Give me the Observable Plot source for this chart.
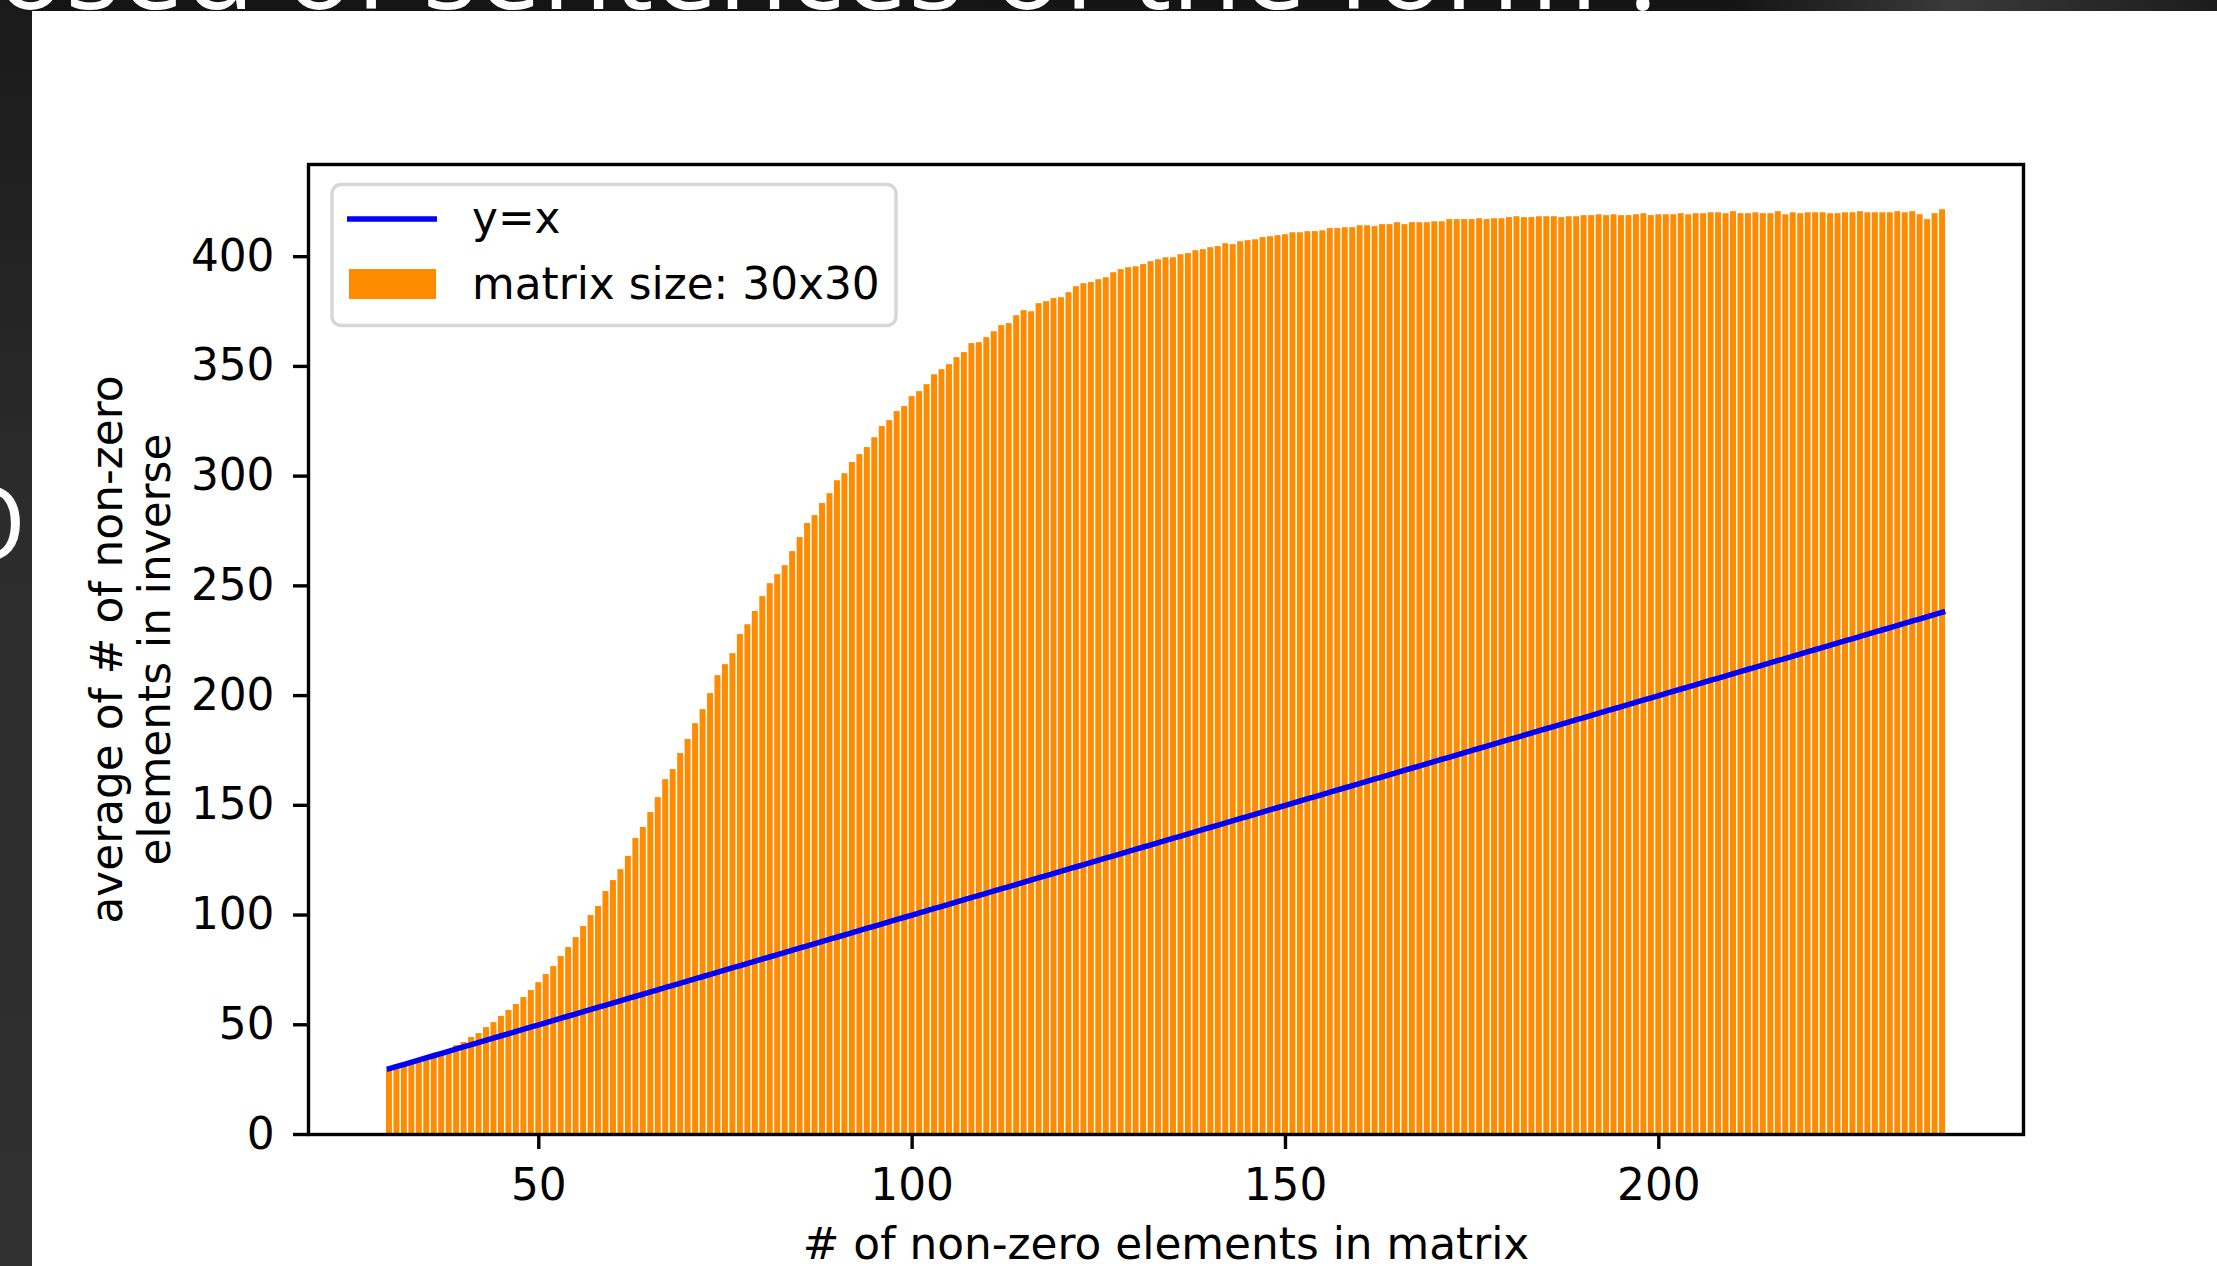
<!DOCTYPE html>
<html>
<head>
<meta charset="utf-8">
<script src="https://cdn.jsdelivr.net/npm/d3@7"></script>
<script src="https://cdn.jsdelivr.net/npm/@observablehq/plot@0.6"></script>
<style>
  html, body { margin: 0; padding: 0; width: 2217px; height: 1266px; overflow: hidden; }
  body { position: relative; background: linear-gradient(90deg, #151515 0%, #141414 78%, #3a3a3a 88%, #2a2a2a 94%, #1c1c1c 100%); font-family: "DejaVu Sans", sans-serif; }
  #leftstrip { position: absolute; left: 0; top: 0; width: 32px; height: 1266px; background: linear-gradient(180deg, #1a1a1a 0%, #2c2c2c 40%, #303030 100%); }
  #slide { position: absolute; left: 0; top: 0; width: 2217px; height: 1266px; z-index: 1; }
  #panel { position: absolute; left: 32px; top: 11px; width: 2185px; height: 1255px; background: #ffffff; z-index: 2; }
  #chart { position: absolute; left: 32px; top: 11px; z-index: 3; }
  #legend { position: absolute; left: 0; top: 0; z-index: 4; pointer-events: none; }
</style>
</head>
<body>
<div id="leftstrip"></div>
<svg id="slide" width="2217" height="1266" xmlns="http://www.w3.org/2000/svg">
  <text x="-4" y="8.5" fill="#ffffff" font-family="Open Sans" font-size="115">osed of sentences of the form :</text>
  <text x="26" y="560" fill="#ffffff" font-family="Open Sans" font-size="102" text-anchor="end">O</text>
</svg>
<div id="panel"></div>
<div id="chart"></div>
<svg id="legend" width="2217" height="1266" xmlns="http://www.w3.org/2000/svg">
  <rect x="332" y="184.5" width="564" height="141" rx="9" ry="9" fill="#ffffff" fill-opacity="0.8" stroke="#d6d6d6" stroke-width="3.4"></rect>
  <line x1="347" y1="219" x2="437" y2="219" stroke="#0000ff" stroke-width="5.5"></line>
  <text x="472" y="233" font-family="DejaVu Sans" font-size="43.8" fill="#000000">y=x</text>
  <rect x="349" y="269" width="87" height="30" fill="#ff8c00"></rect>
  <text x="472" y="299" font-family="DejaVu Sans" font-size="43.8" fill="#000000">matrix size: 30x30</text>
</svg>
<script>
// x categories: number of non-zero elements in a 30x30 matrix
const nonZero = [
  30, 31, 32, 33, 34, 35, 36, 37, 38, 39, 40, 41, 42, 43, 44, 45, 46, 47, 48, 49,
  50, 51, 52, 53, 54, 55, 56, 57, 58, 59, 60, 61, 62, 63, 64, 65, 66, 67, 68, 69,
  70, 71, 72, 73, 74, 75, 76, 77, 78, 79, 80, 81, 82, 83, 84, 85, 86, 87, 88, 89,
  90, 91, 92, 93, 94, 95, 96, 97, 98, 99, 100, 101, 102, 103, 104, 105, 106, 107, 108, 109,
  110, 111, 112, 113, 114, 115, 116, 117, 118, 119, 120, 121, 122, 123, 124, 125, 126, 127, 128, 129,
  130, 131, 132, 133, 134, 135, 136, 137, 138, 139, 140, 141, 142, 143, 144, 145, 146, 147, 148, 149,
  150, 151, 152, 153, 154, 155, 156, 157, 158, 159, 160, 161, 162, 163, 164, 165, 166, 167, 168, 169,
  170, 171, 172, 173, 174, 175, 176, 177, 178, 179, 180, 181, 182, 183, 184, 185, 186, 187, 188, 189,
  190, 191, 192, 193, 194, 195, 196, 197, 198, 199, 200, 201, 202, 203, 204, 205, 206, 207, 208, 209,
  210, 211, 212, 213, 214, 215, 216, 217, 218, 219, 220, 221, 222, 223, 224, 225, 226, 227, 228, 229,
  230, 231, 232, 233, 234, 235, 236, 237, 238
];
// series: average number of non-zero elements in the inverse
const avgInverse = [
  29.5, 30.3, 31.2, 32.3, 33.3, 34.4, 35.6, 36.8, 38.3, 40.5, 41.9, 44.2, 46.0, 48.7, 51.0, 53.8, 56.5, 59.2, 62.4, 65.6,
  69.2, 72.9, 76.5, 81.1, 85.2, 89.7, 94.8, 99.8, 103.9, 110.7, 115.7, 120.7, 126.7, 134.9, 139.9, 146.7, 153.5, 161.7, 166.3, 173.6,
  180.0, 187.2, 193.6, 200.9, 209.1, 214.1, 219.1, 227.8, 232.3, 238.3, 245.1, 251.0, 255.1, 259.2, 265.6, 272.0, 278.4, 282.0, 287.5, 292.0,
  297.9, 301.1, 306.2, 309.8, 313.0, 317.5, 322.6, 325.3, 329.4, 331.7, 336.2, 338.5, 341.7, 346.2, 348.5, 350.8, 354.0, 356.3, 360.4, 360.8,
  363.1, 365.8, 368.6, 369.5, 373.1, 375.4, 374.9, 378.6, 379.5, 380.9, 381.3, 383.6, 386.3, 387.7, 388.2, 389.5, 390.4, 392.7, 394.1, 395.0,
  395.4, 396.4, 397.7, 398.6, 399.5, 399.5, 400.9, 401.4, 402.7, 403.2, 404.1, 404.6, 405.9, 405.5, 406.8, 407.3, 407.7, 408.7, 409.1, 409.6,
  410.0, 410.9, 410.9, 411.4, 411.4, 411.8, 412.8, 412.8, 413.2, 413.2, 414.1, 414.1, 413.7, 414.6, 414.6, 415.5, 414.6, 415.5, 415.5, 415.5,
  415.9, 415.9, 416.9, 416.9, 416.9, 416.9, 417.3, 416.9, 417.3, 417.3, 417.8, 418.2, 417.8, 417.8, 418.2, 418.2, 418.2, 417.8, 418.2, 418.2,
  418.7, 418.7, 419.1, 418.7, 419.1, 418.7, 418.7, 419.1, 419.6, 418.7, 419.1, 419.1, 419.1, 419.6, 419.1, 419.6, 419.6, 420.0, 420.0, 419.6,
  420.5, 419.6, 419.6, 420.0, 419.6, 419.6, 420.5, 419.1, 420.0, 419.6, 420.0, 420.0, 420.0, 419.6, 419.6, 420.0, 420.0, 420.5, 420.0, 420.0,
  420.0, 420.0, 420.5, 420.0, 420.5, 419.1, 416.9, 419.6, 421.4
];
const xTicks = [50, 100, 150, 200];
const yTicks = [0, 50, 100, 150, 200, 250, 300, 350, 400];
const xLabel = "# of non-zero elements in matrix";
const yLabel = "average of # of non-zero\nelements in inverse";

const data = nonZero.map((n, i) => ({n, avg: avgInverse[i]}));
const barHalf = 0.4;
const FS = 43.8;

const chart = Plot.plot({
  width: 2185,
  height: 1255,
  marginLeft: 276,
  marginTop: 153,
  marginRight: 194,
  marginBottom: 132,
  style: {fontFamily: "DejaVu Sans", fontSize: FS + "px", background: "transparent", color: "#000000", overflow: "visible"},
  x: {domain: [19.16, 248.84]},
  y: {domain: [0, 442]},
  marks: [
    Plot.rectY(data, {x1: d => d.n - barHalf, x2: d => d.n + barHalf, y1: 0, y2: "avg", fill: "#ff8c00"}),
    Plot.line(data, {x: "n", y: "n", stroke: "#0000ff", strokeWidth: 5.5, strokeLinecap: "square"}),
    Plot.axisX({ticks: xTicks, tickSize: 15, tickPadding: 19, strokeWidth: 3.4, label: null, fontSize: FS}),
    Plot.axisY({ticks: yTicks, tickSize: 15, tickPadding: 19, strokeWidth: 3.4, label: null, fontSize: FS}),
    Plot.frame({stroke: "#000000", strokeWidth: 3.4}),
    Plot.text([xLabel], {frameAnchor: "bottom", dy: 124, fontSize: FS, text: d => d}),
    Plot.text([yLabel], {frameAnchor: "left", textAnchor: "middle", dx: -178, rotate: -90, lineHeight: 1.1, fontSize: FS, text: d => d})
  ]
});
document.getElementById("chart").appendChild(chart);
</script>
</body>
</html>
